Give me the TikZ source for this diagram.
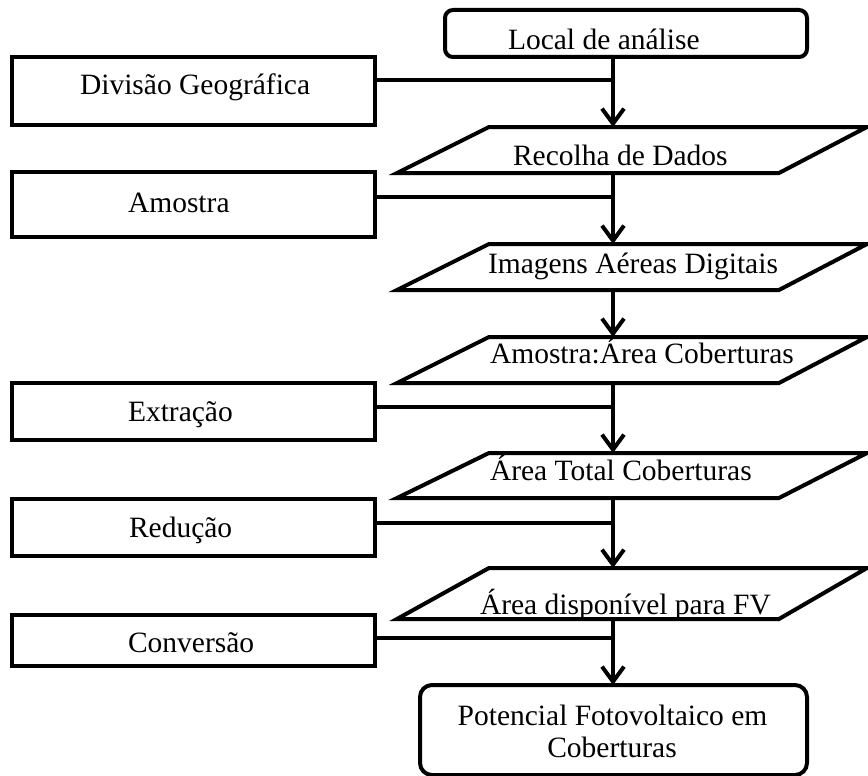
\documentclass[tikz,border=0pt]{standalone}
\usepackage{fontspec}
\setmainfont{Liberation Serif}
\usetikzlibrary{arrows.meta}
\begin{document}
\begin{tikzpicture}[x=1pt,y=-1pt,
  every node/.style={inner sep=0pt, outer sep=0pt},
  shape line/.style={line width=4pt},
  procbox/.style={draw, shape line, rectangle, minimum width=363pt},
  endbox/.style={draw, shape line, rectangle, rounded corners=8pt},
  iobox/.style={rectangle, minimum width=470pt},
  txt/.style={font=\fontsize{29.5}{34}\selectfont, anchor=base west},
  link/.style={line width=4pt},
  flow/.style={line width=4pt, -{Straight Barb[length=15pt,width=22pt]}}
]
\useasboundingbox (0,0) rectangle (868,776);
\fill[white] (0,0) rectangle (868,776);

% main column: start, data blocks, result
\node[endbox, minimum width=362pt, minimum height=47pt] (local) at (626,33.5) {};
\node[iobox, minimum height=46pt] (recolha) at (632,150) {};
\node[iobox, minimum height=46pt] (imagens) at (632,267) {};
\node[iobox, minimum height=46pt] (amarea) at (632,360) {};
\node[iobox, minimum height=45pt] (areatot) at (632,475.5) {};
\node[iobox, minimum height=51pt] (areadisp) at (632,593.5) {};
\node[endbox, rounded corners=12pt, minimum width=387pt, minimum height=90pt] (pot) at (613.5,730) {};

% parallelogram outlines of the data blocks
\foreach \n in {recolha,imagens,amarea,areatot,areadisp}
  \draw[shape line] (\n.south west) -- ([xshift=92pt]\n.north west)
    -- (\n.north east) -- ([xshift=-88pt]\n.south east) -- cycle;

% side processes
\node[procbox, minimum height=68pt] (div) at (193.5,91) {};
\node[procbox, minimum height=65pt] (amostra) at (193.5,204.5) {};
\node[procbox, minimum height=57pt] (extr) at (193.5,411.5) {};
\node[procbox, minimum height=57pt] (red) at (193.5,527.5) {};
\node[procbox, minimum height=51pt] (conv) at (193.5,640.5) {};

% labels
\node[txt] (tlocal) at (508,50) {Local de análise};
\node[txt] (trecolha) at (513,165) {Recolha de Dados};
\node[txt] (timagens) at (488,273) {Imagens Aéreas Digitais};
\node[txt] (tamarea) at (490,363) {Amostra:Área Coberturas};
\node[txt] (tareatot) at (490,480) {Área Total Coberturas};
\node[txt] (tareadisp) at (480,614) {Área disponível para FV};
\node[txt, anchor=base] (tpot1) at (612.5,725) {Potencial Fotovoltaico em};
\node[txt, anchor=base] (tpot2) at (612,757) {Coberturas};
\node[txt] (tdiv) at (80,95) {Divisão Geográfica};
\node[txt] (tamostra) at (128,212) {Amostra};
\node[txt] (textr) at (128,421) {Extração};
\node[txt] (tred) at (129,537) {Redução};
\node[txt] (tconv) at (128,652) {Conversão};

% spine and junctions
\coordinate (spine) at (613,0);
\coordinate (j1) at (613,80);
\coordinate (j2) at (613,197);
\coordinate (j3) at (613,407);
\coordinate (j4) at (613,523);
\coordinate (j5) at (613,638);

\draw[link] (j1 -| div.east) -- (j1);
\draw[link] (j2 -| amostra.east) -- (j2);
\draw[link] (j3 -| extr.east) -- (j3);
\draw[link] (j4 -| red.east) -- (j4);
\draw[link] (j5 -| conv.east) -- (j5);

\draw[flow] (local.south -| spine) -- (recolha.north -| spine);
\draw[flow] (recolha.south -| spine) -- (imagens.north -| spine);
\draw[flow] (imagens.south -| spine) -- (amarea.north -| spine);
\draw[flow] (amarea.south -| spine) -- (areatot.north -| spine);
\draw[flow] (areatot.south -| spine) -- (areadisp.north -| spine);
\draw[flow] (areadisp.south -| spine) -- (pot.north -| spine);
\end{tikzpicture}
\end{document}
